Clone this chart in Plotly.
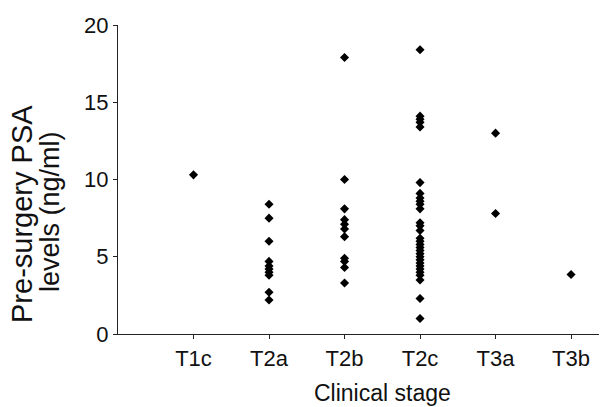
import plotly.graph_objects as go

categories = ["T1c", "T2a", "T2b", "T2c", "T3a", "T3b"]

psa_t1c = [10.3]
psa_t2a = [8.4, 7.5, 6.0, 4.7, 4.4, 4.2, 4.0, 3.8, 2.7, 2.2]
psa_t2b = [17.9, 10.0, 8.1, 7.4, 7.1, 6.8, 6.3, 4.9, 4.7, 4.3, 3.3]
psa_t2c = [18.4, 14.1, 13.9, 13.7, 13.4, 9.8, 9.1, 8.8, 8.6, 8.4, 8.1,
           7.2, 7.0, 6.7, 6.2, 6.0, 5.8, 5.6, 5.4, 5.2, 5.0, 4.8, 4.6,
           4.4, 4.2, 4.0, 3.8, 3.5, 2.3, 1.0]
psa_t3a = [13.0, 7.8]
psa_t3b = [3.85]

groups = [psa_t1c, psa_t2a, psa_t2b, psa_t2c, psa_t3a, psa_t3b]

xs, ys = [], []
for cat, vals in zip(categories, groups):
    for v in vals:
        xs.append(cat)
        ys.append(v)

W, H = 601, 407
ml, mr, mt, mb = 118, 2, 25, 73
pw, ph = W - ml - mr, H - mt - mb

def px_x(p):
    return (p - ml) / pw

def px_y(p):
    return (H - mb - p) / ph

font = "Liberation Sans, Arial, sans-serif"

fig = go.Figure(go.Scatter(
    x=xs, y=ys, mode="markers",
    marker=dict(symbol="diamond", size=7, color="black", line=dict(width=0)),
    showlegend=False,
))

fig.update_layout(
    width=W, height=H,
    margin=dict(l=ml, r=mr, t=mt, b=mb),
    paper_bgcolor="white", plot_bgcolor="white",
    font=dict(family=font, color="#111111"),
    xaxis=dict(
        type="category", categoryorder="array", categoryarray=categories,
        range=[-1, 5.37], showgrid=False, zeroline=False,
        showline=True, linecolor="#222222", linewidth=1,
        ticks="outside", ticklen=4, tickcolor="#222222",
        tickfont=dict(size=22, family=font, color="#111111"),
        ticklabelstandoff=1,
    ),
    yaxis=dict(
        range=[0, 20], tickvals=[0, 5, 10, 15, 20],
        showgrid=False, zeroline=False,
        showline=True, linecolor="#222222", linewidth=1,
        ticks="outside", ticklen=4, tickcolor="#222222",
        tickfont=dict(size=22, family=font, color="#111111"),
    ),
    annotations=[
        dict(text="Pre-surgery PSA", textangle=-90, xref="paper", yref="paper",
             x=px_x(22), y=px_y(214), xanchor="center", yanchor="middle",
             showarrow=False, font=dict(size=29, family=font, color="#111111")),
        dict(text="levels (ng/ml)", textangle=-90, xref="paper", yref="paper",
             x=px_x(50), y=px_y(212), xanchor="center", yanchor="middle",
             showarrow=False, font=dict(size=27, family=font, color="#111111")),
        dict(text="Clinical stage", xref="paper", yref="paper",
             x=px_x(382), y=px_y(393), xanchor="center", yanchor="middle",
             showarrow=False, font=dict(size=23, family=font, color="#111111")),
    ],
)

fig.write_html("out.html", config={"displayModeBar": False},
               post_script="document.body.style.margin='0';")
